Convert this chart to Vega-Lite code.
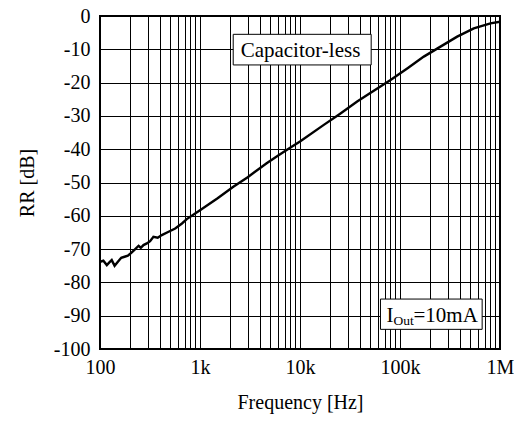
{
  "$schema": "https://vega.github.io/schema/vega-lite/v6.json",
  "width": 400,
  "height": 333,
  "autosize": "none",
  "padding": {"left": 100, "top": 16, "right": 14, "bottom": 72},
  "background": "white",
  "config": {
    "font": "Liberation Serif",
    "view": {"stroke": "black", "strokeWidth": 2},
    "axis": {
      "labelFont": "Liberation Serif",
      "titleFont": "Liberation Serif",
      "labelFontSize": 20,
      "titleFontSize": 20,
      "titleFontWeight": "normal",
      "labelColor": "black",
      "titleColor": "black",
      "gridColor": "black",
      "gridOpacity": 1,
      "gridWidth": 1,
      "ticks": false,
      "domain": false
    }
  },
  "datasets": {
    "curve": [
      {"f": 100, "rr": -73.8},
      {"f": 108, "rr": -73.5},
      {"f": 117, "rr": -74.8},
      {"f": 124, "rr": -74.0},
      {"f": 131, "rr": -73.3},
      {"f": 140, "rr": -75.0},
      {"f": 151, "rr": -73.8},
      {"f": 163, "rr": -72.6},
      {"f": 176, "rr": -72.3},
      {"f": 190, "rr": -72.0},
      {"f": 208, "rr": -71.0},
      {"f": 225, "rr": -70.0},
      {"f": 243, "rr": -69.0},
      {"f": 256, "rr": -69.6},
      {"f": 272, "rr": -68.8},
      {"f": 294, "rr": -68.3},
      {"f": 317, "rr": -67.6},
      {"f": 342, "rr": -66.3},
      {"f": 378, "rr": -66.6},
      {"f": 415, "rr": -65.8},
      {"f": 485, "rr": -64.8},
      {"f": 565, "rr": -63.8},
      {"f": 660, "rr": -62.3},
      {"f": 737, "rr": -61.0},
      {"f": 1000, "rr": -58.3},
      {"f": 1500, "rr": -54.7},
      {"f": 2154, "rr": -51.3},
      {"f": 3000, "rr": -48.4},
      {"f": 4640, "rr": -44.2},
      {"f": 6000, "rr": -42.0},
      {"f": 8035, "rr": -39.5},
      {"f": 10000, "rr": -37.7},
      {"f": 17300, "rr": -32.7},
      {"f": 25000, "rr": -29.4},
      {"f": 37300, "rr": -25.7},
      {"f": 50000, "rr": -23.2},
      {"f": 80400, "rr": -19.2},
      {"f": 120000, "rr": -15.6},
      {"f": 173000, "rr": -12.2},
      {"f": 254000, "rr": -9.2},
      {"f": 373000, "rr": -6.2},
      {"f": 547000, "rr": -3.7},
      {"f": 803000, "rr": -2.2},
      {"f": 1000000, "rr": -1.7}
    ],
    "boxes": [
      {"f": 2148, "f2": 51500, "rr": -5.5, "rr2": -14.7},
      {"f": 63800, "f2": 663000, "rr": -85.0, "rr2": -94.1}
    ],
    "labels": [
      {"f": 2550, "rr": -12.2, "txt": "Capacitor-less", "size": 21},
      {"f": 73300, "rr": -91.8, "txt": "I", "size": 21},
      {"f": 86100, "rr": -92.8, "txt": "Out", "size": 13.5},
      {"f": 136500, "rr": -91.8, "txt": "=10mA", "size": 21}
    ]
  },
  "encoding": {
    "x": {
      "field": "f",
      "type": "quantitative",
      "scale": {"type": "log", "domain": [100, 1000000]},
      "axis": {
        "title": "Frequency [Hz]",
        "titleFont": "Liberation Serif",
        "titleFontSize": 20,
        "titleFontWeight": "normal",
        "titleColor": "black",
        "labelFont": "Liberation Serif",
        "labelFontSize": 20,
        "labelColor": "black",
        "values": [100,200,300,400,500,600,700,800,900,1000,2000,3000,4000,5000,6000,7000,8000,9000,10000,20000,30000,40000,50000,60000,70000,80000,90000,100000,200000,300000,400000,500000,600000,700000,800000,900000,1000000],
        "labelExpr": "datum.value == 100 ? '100' : datum.value == 1000 ? '1k' : datum.value == 10000 ? '10k' : datum.value == 100000 ? '100k' : datum.value == 1000000 ? '1M' : ''",
        "labelOverlap": false,
        "labelFlush": false,
        "labelPadding": 8,
        "titlePadding": 15,
        "grid": true,
        "gridColor": "black",
        "ticks": false,
        "domain": false
      }
    },
    "y": {
      "field": "rr",
      "type": "quantitative",
      "scale": {"domain": [-100, 0], "nice": false, "zero": false},
      "axis": {
        "title": "RR [dB]",
        "titleFont": "Liberation Serif",
        "titleFontSize": 20,
        "titleFontWeight": "normal",
        "titleColor": "black",
        "labelFont": "Liberation Serif",
        "labelFontSize": 20,
        "labelColor": "black",
        "tickCount": 10,
        "labelExpr": "'' + datum.value",
        "labelOverlap": false,
        "labelPadding": 10,
        "titlePadding": 16,
        "labelFlush": false,
        "grid": true,
        "gridColor": "black",
        "ticks": false,
        "domain": false
      }
    }
  },
  "layer": [
    {
      "data": {"name": "curve"},
      "mark": {"type": "line", "color": "black", "strokeWidth": 2.4, "clip": true}
    },
    {
      "data": {"name": "boxes"},
      "mark": {"type": "rect", "fill": "white", "stroke": "black", "strokeWidth": 1},
      "encoding": {
        "x2": {"field": "f2"},
        "y2": {"field": "rr2"}
      }
    },
    {
      "data": {"name": "labels"},
      "mark": {"type": "text", "align": "left", "baseline": "alphabetic", "color": "black", "font": "Liberation Serif"},
      "encoding": {
        "text": {"field": "txt"},
        "size": {"field": "size", "type": "quantitative", "scale": null}
      }
    }
  ]
}
